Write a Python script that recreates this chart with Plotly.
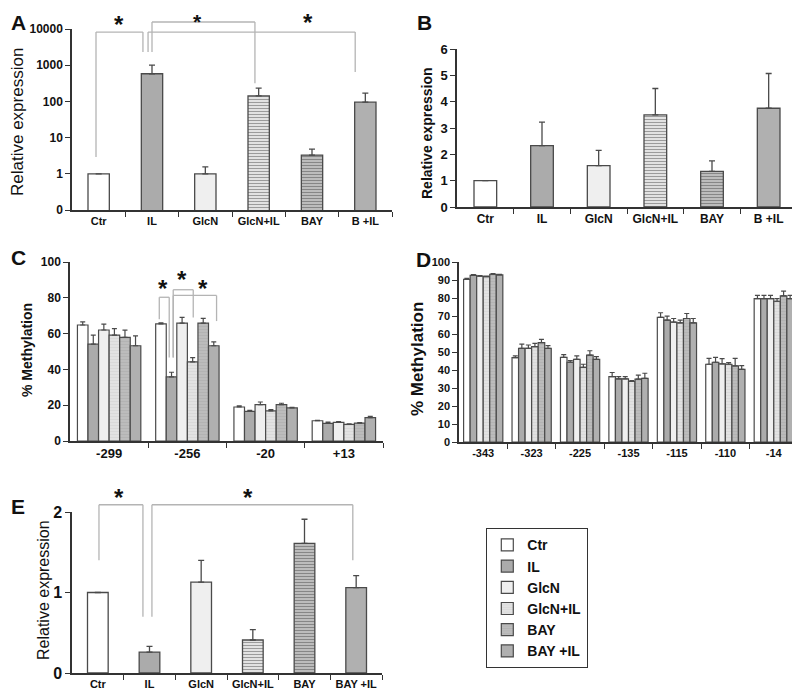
import math
import plotly.graph_objects as go

FONT = "Liberation Sans, Arial, sans-serif"
EDGE = "#4a4a4a"
BRACKET = "#b4b4b4"

treatments = ["Ctr", "IL", "GlcN", "GlcN+IL", "BAY", "BAY +IL"]
ab_labels = ["Ctr", "IL", "GlcN", "GlcN+IL", "BAY", "B +IL"]

# panel A - relative expression (log axis, "0" tick stands at 0.1)
a_values = [1.0, 580, 1.0, 142, 3.3, 95]
a_errors = [0, 420, 0.55, 92, 1.5, 75]

# panel B
b_values = [1.0, 2.33, 1.57, 3.5, 1.35, 3.75]
b_errors = [0, 0.89, 0.58, 1.0, 0.4, 1.32]

# panel C - % methylation, one row per treatment
c_sites = ["-299", "-256", "-20", "+13"]
c_values = [
    [64.8, 65.4, 19.0, 11.3],
    [54.1, 35.8, 16.5, 9.8],
    [62.0, 65.9, 20.3, 10.4],
    [59.2, 44.2, 16.8, 9.3],
    [57.9, 65.9, 20.3, 10.0],
    [53.2, 53.2, 18.5, 13.1],
]
c_errors = [
    [1.8, 0.6, 0.6, 0.3],
    [5.0, 2.6, 0.6, 0.7],
    [3.3, 3.2, 1.5, 0.4],
    [3.6, 2.4, 0.7, 0.3],
    [4.0, 2.6, 0.8, 0.3],
    [5.5, 2.2, 0.3, 0.7],
]

# panel D
d_sites = ["-343", "-323", "-225", "-135", "-115", "-110", "-14"]
d_values = [
    [90.4, 46.9, 47.0, 36.3, 69.2, 43.2, 79.7],
    [92.6, 52.0, 44.3, 35.1, 67.7, 44.3, 79.7],
    [92.2, 52.0, 45.9, 35.1, 66.6, 43.4, 79.7],
    [91.9, 53.0, 41.5, 33.6, 66.2, 43.2, 78.2],
    [93.2, 55.2, 48.3, 34.9, 68.6, 42.3, 81.2],
    [92.8, 52.0, 45.9, 35.4, 66.2, 40.4, 79.7],
]
d_errors = [
    [0.5, 0.9, 1.5, 2.3, 2.6, 3.3, 1.8],
    [0.4, 2.4, 0.9, 1.2, 2.2, 2.7, 1.8],
    [0.3, 1.9, 1.9, 1.2, 2.0, 2.9, 1.8],
    [0.3, 1.8, 1.7, 0.5, 1.5, 0.9, 1.5],
    [0.4, 1.8, 2.4, 2.2, 2.8, 4.2, 2.6],
    [0.3, 1.5, 1.5, 2.8, 2.4, 2.0, 1.8],
]

# panel E
e_values = [1.0, 0.26, 1.13, 0.41, 1.61, 1.06]
e_errors = [0, 0.07, 0.27, 0.13, 0.30, 0.15]

fills = ["#ffffff", "#ababab", "#efefef", "#e2e2e2", "#bcbcbc", "#b0b0b0"]
hatch = ["", "", "", "-", "-", ""]
hatch_fg = ["#ffffff", "#ababab", "#efefef", "#cfcfcf", "#a9a9a9", "#b0b0b0"]

# page body has an 8px margin, so the figure is laid out in page pixels shifted by it
W, H, OFF = 792, 685, 8


def px_x(px):
    return (px - OFF) / W


def px_y(py):
    return 1 - (py - OFF) / H


fig = go.Figure()


def single_panel(n, values, errors):
    fig.add_trace(go.Bar(
        x=list(range(len(values))), y=values, width=0.4,
        xaxis="x" + n, yaxis="y" + n,
        marker=dict(color=fills, line=dict(color=EDGE, width=1.3),
                    pattern=dict(shape=hatch, fgcolor=hatch_fg, size=3, solidity=0.3)),
        error_y=dict(type="data", symmetric=False, array=errors, arrayminus=[0] * len(values),
                     color=EDGE, thickness=1.3, width=3),
        showlegend=False, hoverinfo="skip"))


def grouped_panel(n, sites, values, errors, legend):
    for i, t in enumerate(treatments):
        fig.add_trace(go.Bar(
            x=list(range(len(sites))), y=values[i], name=t,
            xaxis="x" + n, yaxis="y" + n, legendgroup=t, showlegend=legend,
            marker=dict(color=fills[i], line=dict(color=EDGE, width=1.2),
                        pattern=dict(shape=hatch[i], fgcolor=hatch_fg[i], size=3, solidity=0.3)),
            error_y=dict(type="data", symmetric=False, array=errors[i],
                         arrayminus=[0] * len(sites), color=EDGE, thickness=1.2, width=2.5),
            hoverinfo="skip"))


single_panel("", a_values, a_errors)
single_panel("2", b_values, b_errors)
grouped_panel("3", c_sites, c_values, c_errors, True)
grouped_panel("4", d_sites, d_values, d_errors, False)
single_panel("5", e_values, e_errors)

# plot boxes in page pixels (left, right, top, bottom), axis ranges (log10 range for A)
panels = {
    "": dict(box=(72, 392, 29, 210), xr=[-0.5, 5.5], yr=[-1, 4], log=True),
    "2": dict(box=(457, 797, 49, 207), xr=[-0.5, 5.5], yr=[0, 6], log=False),
    "3": dict(box=(70, 383, 262, 441), xr=[-0.5, 3.5], yr=[0, 100], log=False),
    "4": dict(box=(459, 798, 262, 442), xr=[-0.5, 6.5], yr=[0, 100], log=False),
    "5": dict(box=(72, 382, 512, 673), xr=[-0.5, 5.5], yr=[0, 2], log=False),
}

x_labels = {"": ab_labels, "2": ab_labels, "3": c_sites, "4": d_sites, "5": treatments}
x_font = {"": 11, "2": 12, "3": 13, "4": 11, "5": 11}
y_font = {"": 12, "2": 13, "3": 12, "4": 11, "5": 16}
y_dticks = {"2": 1, "3": 20, "4": 10, "5": 1}
# axis titles: text, size, weight, centre in page pixels
y_titles = {
    "": ("Relative expression", 17, "normal", 18, 122),
    "2": ("Relative expression", 14, "bold", 427, 133),
    "3": ("% Methylation", 14, "bold", 27, 350),
    "4": ("% Methylation", 17, "bold", 417, 359),
    "5": ("Relative expression", 16, "normal", 43, 590),
}

layout = {}
annotations = []
for n, p in panels.items():
    left, right, top, bottom = p["box"]
    k = len(x_labels[n])
    layout["xaxis" + n] = dict(
        domain=[px_x(left), px_x(right)], range=p["xr"], anchor="y" + n, automargin=False,
        tickmode="array", tickvals=list(range(k)), ticktext=x_labels[n], ticks="",
        tickfont=dict(size=x_font[n], family=FONT, color="#111", weight="bold"),
        showline=True, linecolor="#333", linewidth=1.5, showgrid=False, zeroline=False,
        minor=dict(tickmode="array", tickvals=[i + 0.5 for i in range(k)],
                   ticks="outside", ticklen=5, tickwidth=1.3, tickcolor="#333"),
        fixedrange=True)
    y = dict(
        domain=[px_y(bottom), px_y(top)], anchor="x" + n, range=p["yr"], automargin=False,
        ticks="outside", ticklen=5, tickwidth=1.3, tickcolor="#333",
        tickfont=dict(size=y_font[n], family=FONT, color="#111", weight="bold"),
        showline=True, linecolor="#333", linewidth=1.5, showgrid=False, zeroline=False,
        fixedrange=True)
    if p["log"]:
        y.update(type="log", tickmode="array", tickvals=[0.1, 1, 10, 100, 1000, 10000],
                 ticktext=["0", "1", "10", "100", "1000", "10000"])
    else:
        y.update(dtick=y_dticks[n])
    layout["yaxis" + n] = y

    title, tsize, tweight, tx, ty = y_titles[n]
    annotations.append(dict(text=title, x=px_x(tx), y=px_y(ty), xref="paper", yref="paper",
                            textangle=-90, showarrow=False, xanchor="center", yanchor="middle",
                            font=dict(size=tsize, family=FONT, color="#111", weight=tweight)))


def fx(n, x):
    lo, hi = panels[n]["xr"]
    return (x - lo) / (hi - lo)


def fy(n, v):
    lo, hi = panels[n]["yr"]
    if panels[n]["log"]:
        v = math.log10(v)
    return (v - lo) / (hi - lo)


shapes = []


def bracket(n, x0, x1, level, bottom0, bottom1, star_x, star_y):
    ref = dict(xref="x" + n + " domain", yref="y" + n + " domain",
               line=dict(color=BRACKET, width=1.3))
    for (ax, ay, bx, by) in [(x0, bottom0, x0, level), (x0, level, x1, level), (x1, level, x1, bottom1)]:
        shapes.append(dict(type="line", x0=fx(n, ax), y0=fy(n, ay), x1=fx(n, bx), y1=fy(n, by), **ref))
    star = dict(text="*", x=fx(n, star_x), xref="x" + n + " domain", showarrow=False,
                xanchor="center", font=dict(size=24, family=FONT, color="#111", weight="bold"))
    if star_y is None:
        # star that sits against the top edge of the page
        star.update(y=1, yref="paper", yanchor="top", font=dict(size=21, family=FONT, color="#111", weight="bold"))
    else:
        star.update(y=fy(n, star_y), yref="y" + n + " domain", yanchor="middle")
    annotations.append(star)


bracket("", -0.05, 0.83, 8200, 2.9, 2300, 0.38, 13000)
bracket("", 1.0, 2.93, 15600, 2300, 316, 1.85, None)
bracket("", 0.926, 4.81, 8200, 2300, 646, 3.93, 15000)

bracket("3", 0.641, 0.768, 80.3, 68, 46.6, 0.69, 85)
bracket("3", 0.819, 1.075, 84.5, 46.6, 69, 0.93, 90)
bracket("3", 0.819, 1.373, 81.3, 46.6, 67, 1.2, 85)

bracket("5", 0.022, 0.873, 2.09, 1.40, 0.70, 0.41, 2.18)
bracket("5", 1.047, 4.935, 2.09, 0.70, 1.40, 2.9, 2.18)

for letter, lx, ly in [("A", 9, 23), ("B", 415, 23), ("C", 9, 257), ("D", 414, 260), ("E", 9, 506)]:
    annotations.append(dict(text=letter, x=px_x(lx), y=px_y(ly), xref="paper", yref="paper",
                            showarrow=False, xanchor="left", yanchor="middle",
                            font=dict(size=21, family=FONT, color="#111", weight="bold")))

fig.update_layout(
    **layout,
    width=W, height=H,
    margin=dict(l=0, r=0, t=0, b=0, autoexpand=False),
    paper_bgcolor="white", plot_bgcolor="white",
    barmode="group", bargap=0.19, bargroupgap=0,
    shapes=shapes, annotations=annotations,
    legend=dict(x=px_x(486), y=px_y(528), xanchor="left", yanchor="top",
                bordercolor="#333", borderwidth=1.3, bgcolor="white",
                font=dict(size=14, family=FONT, color="#111", weight="bold"),
                itemwidth=30, tracegroupgap=0),
    font=dict(family=FONT),
)

fig.write_html("out.html")
